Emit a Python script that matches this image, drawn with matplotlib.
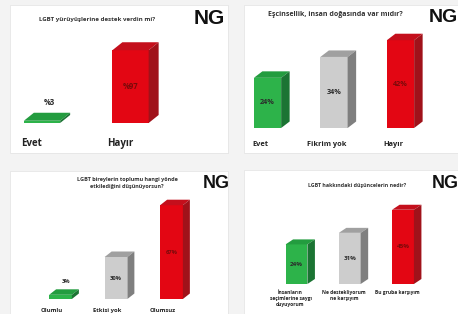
import matplotlib
matplotlib.use("Agg")
import matplotlib.pyplot as plt
from matplotlib.patches import Rectangle, Polygon

plt.rcParams['font.family'] = ['Open Sans', 'DejaVu Sans']

W, H = 458, 314

# --- data ---
q1_title = "LGBT yürüyüşlerine destek verdin mi?"
q1_cats = ["Evet", "Hayır"]
q1_vals = [3, 97]
q1_labels = ["%3", "%97"]

q2_title = "Eşcinsellik, insan doğasında var mıdır?"
q2_cats = ["Evet", "Fikrim yok", "Hayır"]
q2_vals = [24, 34, 42]
q2_labels = ["24%", "34%", "42%"]

q3_title = "LGBT bireylerin toplumu hangi yönde\netkilediğini düşünüyorsun?"
q3_cats = ["Olumlu", "Etkisi yok", "Olumsuz"]
q3_vals = [3, 30, 67]
q3_labels = ["3%", "30%", "67%"]

q4_title = "LGBT hakkındaki düşüncelerin nedir?"
q4_cats = ["İnsanların\nseçimlerine saygı\nduyuyorum", "Ne destekliyorum\nne karşıyım", "Bu gruba karşıyım"]
q4_vals = [24, 31, 45]
q4_labels = ["24%", "31%", "45%"]

# renk: on, ust, yan
GREEN = ("#2db34a", "#239c3f", "#1b7433")
GRAY = ("#cdcdcd", "#a0a0a0", "#7f7f7f")
RED = ("#e30613", "#c40f1c", "#a0121a")


def fr(x, y):
    # piksel (ust-sol orijin) -> figure fraction
    return x / W, 1 - y / H


fig = plt.figure(figsize=(W / 100, H / 100), dpi=100)
fig.patch.set_facecolor("#f3f3f3")


def panel(box, title, title_xy, tsize, logo_xy, logo_size):
    x0, y0, x1, y1 = box
    a, b = fr(x0, y1)
    fig.add_artist(Rectangle((a + 0.002, b - 0.004), (x1 - x0) / W, (y1 - y0) / H,
                             transform=fig.transFigure, facecolor="#e2e2e2", edgecolor="none",
                             zorder=-3))
    fig.add_artist(Rectangle((a, b), (x1 - x0) / W, (y1 - y0) / H,
                             transform=fig.transFigure, facecolor="white", edgecolor="#e6e6e6", lw=0.6,
                             zorder=-2))
    tx, ty = fr(*title_xy)
    fig.text(tx, ty, title, ha="center", va="center", fontsize=tsize, fontweight="bold",
             color="#333333", linespacing=1.3)
    lx, ly = fr(*logo_xy)
    fig.text(lx, ly, "NG", ha="left", va="center", fontsize=logo_size, fontweight="bold",
             color="#111111", family="Liberation Sans")


def bars(cats, vals, labels, colors, c0, sp, base, scale, dxp, dyp, ymax,
         lblsize, catsize, cat_dx, cat_dy, small_dy, width=0.41):
    n = len(vals)
    left = c0 - 0.6 * sp
    wpx = sp * (n - 1 + 1.2)
    x, y = fr(left, base)
    ax = fig.add_axes([x, y, wpx / W, ymax * scale / H])
    ax.set_xlim(-0.6, n - 1 + 0.6)
    ax.set_ylim(0, ymax)
    ax.axis("off")
    dx = dxp / sp
    dy = dyp / scale
    for i, v in enumerate(vals):
        front, top, side = colors[i]
        L = i - width / 2
        R = i + width / 2
        ax.bar(i, v, width=width, color=front, clip_on=False, zorder=2)
        ax.add_patch(Polygon([(L, v), (R, v), (R + dx, v + dy), (L + dx, v + dy)],
                             closed=True, facecolor=top, edgecolor="none", clip_on=False, zorder=2))
        ax.add_patch(Polygon([(R, 0), (R + dx, dy), (R + dx, v + dy), (R, v)],
                             closed=True, facecolor=side, edgecolor="none", clip_on=False, zorder=2))
        tcol = "#7a0a0a" if colors[i] == RED else "#2b2b2b"
        if v * scale < 10:
            ax.annotate(labels[i], xy=(i, v), xytext=(dxp / 2 + 2, small_dy), textcoords="offset pixels",
                        ha="center", va="center", fontsize=lblsize, fontweight="bold", color="#2b2b2b",
                        annotation_clip=False)
        else:
            ax.text(i, v / 2, labels[i], ha="center", va="center", fontsize=lblsize,
                    fontweight="bold", color=tcol, zorder=3)
        ax.annotate(cats[i], xy=(i, 0), xytext=(cat_dx, cat_dy), textcoords="offset pixels",
                    ha="center", va="top", fontsize=catsize, fontweight="bold", color="#222222",
                    linespacing=1.25, annotation_clip=False)
    return ax


# panel 1
panel((10, 5, 228, 153), q1_title, (97, 19), 4.4, (194, 19), 15)
bars(q1_cats, q1_vals, q1_labels, [GREEN, RED], 42, 88.5, 123, 0.75, 10, 8, 100,
     5.5, 7, -10, -15, 18)

# panel 2
panel((244, 5, 470, 153), q2_title, (335, 15), 5.0, (429, 17), 14)
bars(q2_cats, q2_vals, q2_labels, [GREEN, GRAY, RED], 267.5, 66.5, 128, 2.09, 8.5, 6.5, 45,
     5.2, 5.3, -7, -13, 15)

# panel 3
panel((10, 171, 228, 322), q3_title, (127, 183), 4.0, (203, 184), 13)
bars(q3_cats, q3_vals, q3_labels, [GREEN, GRAY, RED], 60.5, 55.5, 299, 1.4, 7, 5.5, 70,
     4.2, 4.2, -9, -9, 13)

# panel 4
panel((244, 170, 470, 322), q4_title, (357, 186), 3.8, (432, 184), 13)
bars(q4_cats, q4_vals, q4_labels, [GREEN, GRAY, RED], 296.5, 53.25, 284, 1.65, 7.5, 5, 50,
     4.5, 3.5, -6, -6, 15)

fig.savefig("out.png", dpi=100, facecolor=fig.get_facecolor())
